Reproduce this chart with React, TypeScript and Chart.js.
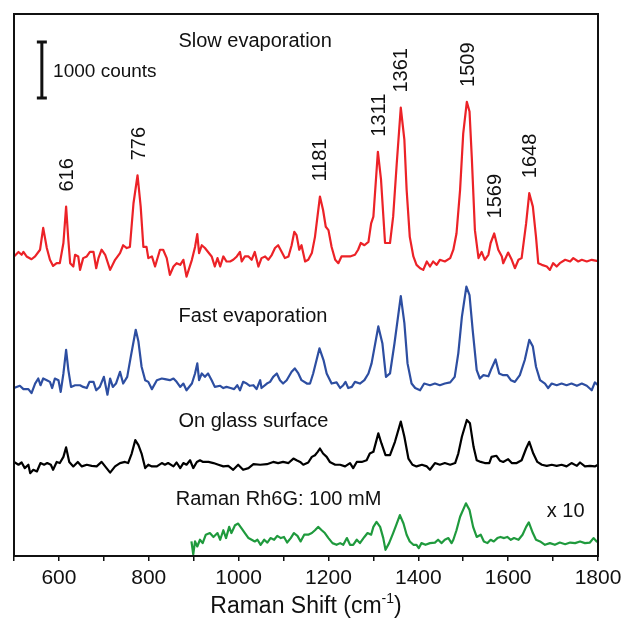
import { useEffect, useRef } from "react";
import { Chart, registerables } from "chart.js";

Chart.register(...registerables);

// Raman shift (cm-1) and intensity (counts, traces stacked with offsets)
const slowX = [500,510,517,521,528,539,547,558,565,573,580,587,595,602,610,616,621,625,632,636,643,647,654,662,669,677,683,688,695,703,714,725,736,743,751,758,766,775,782,788,795,799,807,814,825,832,840,847,855,862,870,877,884,896,903,908,912,918,925,932,940,947,953,959,966,973,981,988,996,1003,1007,1014,1022,1029,1036,1044,1051,1059,1066,1074,1081,1088,1096,1103,1111,1118,1124,1129,1135,1140,1148,1155,1163,1170,1181,1188,1194,1200,1207,1215,1222,1229,1237,1248,1259,1266,1272,1280,1289,1295,1300,1310,1317,1326,1337,1344,1352,1361,1369,1374,1381,1389,1396,1404,1411,1419,1426,1433,1441,1448,1459,1471,1478,1485,1493,1500,1508,1514,1519,1526,1534,1541,1548,1556,1561,1569,1578,1586,1589,1600,1608,1615,1623,1630,1640,1647,1655,1662,1667,1675,1686,1693,1700,1708,1715,1727,1738,1745,1756,1764,1775,1786,1797,1800];
const slowY = [5350,5430,5380,5430,5350,5300,5350,5470,5860,5500,5290,5180,5230,5230,5590,6240,5640,5230,5170,5380,5350,5110,5320,5350,5430,5430,5140,5320,5470,5380,5110,5290,5410,5550,5500,5520,6300,6800,6240,5520,5520,5320,5350,5170,5470,5470,5320,5020,5170,5230,5200,5290,4990,5290,5520,5750,5410,5550,5500,5430,5350,5170,5320,5170,5350,5260,5260,5290,5350,5430,5260,5350,5350,5290,5430,5170,5320,5350,5290,5380,5500,5550,5430,5320,5350,5550,5790,5730,5470,5550,5260,5290,5410,5700,6420,6180,5880,5820,5520,5290,5230,5350,5350,5350,5380,5470,5590,5550,5610,5940,6060,7220,6720,5590,5590,6060,7010,8010,7430,6540,5700,5350,5200,5140,5110,5260,5170,5260,5200,5290,5260,5320,5470,5760,6540,7550,8110,7940,7130,5820,5320,5430,5290,5380,5590,5760,5470,5350,5230,5420,5290,5140,5290,5320,5940,6480,6240,5700,5230,5200,5170,5110,5230,5170,5230,5290,5260,5320,5260,5290,5260,5290,5270,5280];

const fastX = [500,513,521,532,539,547,554,559,565,573,580,585,591,599,604,610,616,621,627,636,647,654,662,668,677,683,691,700,708,714,720,727,736,743,752,760,771,777,784,792,799,807,818,829,836,847,855,862,870,877,884,896,903,908,912,918,925,932,940,947,959,966,973,982,990,997,1003,1010,1018,1025,1033,1040,1048,1051,1063,1070,1077,1085,1092,1099,1107,1118,1125,1133,1140,1152,1159,1166,1180,1189,1196,1207,1218,1226,1233,1238,1244,1252,1259,1270,1280,1289,1296,1311,1320,1328,1337,1347,1361,1369,1376,1385,1393,1404,1413,1426,1437,1448,1459,1471,1481,1489,1497,1507,1514,1521,1530,1537,1545,1556,1563,1572,1580,1589,1598,1606,1615,1626,1637,1647,1655,1662,1671,1682,1689,1697,1708,1719,1730,1741,1753,1764,1775,1786,1793,1800];
const fastY = [3000,3040,2980,2980,2910,3080,3170,3050,3170,3140,3110,3000,3170,3140,2930,3260,3680,3320,3020,3050,3050,3020,3000,3110,3110,2960,3020,3200,2880,3170,3020,3080,3290,3080,3200,3560,4040,3830,3380,3140,3110,2980,3140,3170,3160,3140,3170,3110,3020,3080,2960,3080,3260,3440,3140,3260,3200,3260,3140,3020,3040,3000,3020,3000,2980,3050,2960,3110,3080,3040,3050,2980,3140,3000,3080,3110,3200,3260,3140,3080,3140,3290,3350,3260,3140,3080,3080,3260,3710,3500,3260,3080,3100,3000,3050,3110,3000,3020,3110,3080,3140,3260,3440,4100,3800,3200,3260,3800,4640,4160,3440,3080,3000,2960,3080,3050,3080,3050,3080,3100,3200,3620,4270,4810,4660,4040,3320,3170,3230,3210,3350,3510,3260,3230,3230,3140,3110,3230,3500,3860,3740,3380,3140,3080,3000,3080,3050,3080,3050,3080,3040,3080,3040,2960,3100,3050];

const glassX = [500,510,517,524,532,536,543,551,559,567,574,582,587,595,602,610,616,623,632,642,651,662,673,684,695,706,714,725,736,747,754,762,770,777,784,792,799,807,818,829,836,843,855,862,870,877,884,892,899,907,914,921,933,944,955,966,977,988,999,1010,1022,1033,1048,1063,1077,1088,1099,1111,1122,1129,1137,1144,1155,1163,1170,1176,1181,1188,1196,1203,1215,1226,1237,1248,1255,1263,1274,1285,1292,1300,1311,1318,1327,1337,1348,1361,1369,1378,1387,1396,1408,1419,1426,1437,1448,1459,1471,1482,1489,1497,1508,1515,1523,1530,1539,1548,1558,1563,1574,1582,1589,1600,1608,1619,1630,1640,1647,1656,1665,1675,1686,1697,1708,1719,1730,1741,1753,1760,1771,1782,1793,1800];
const glassY = [1680,1630,1670,1570,1630,1480,1540,1510,1660,1630,1660,1630,1540,1680,1660,1770,1940,1680,1600,1680,1600,1630,1610,1600,1680,1570,1490,1600,1660,1680,1660,1830,2070,1980,1830,1570,1630,1600,1600,1660,1630,1660,1600,1670,1570,1660,1630,1710,1570,1680,1710,1680,1680,1660,1630,1600,1610,1540,1630,1540,1570,1640,1630,1640,1680,1660,1680,1660,1740,1710,1680,1630,1670,1770,1800,1860,1920,1830,1770,1680,1630,1630,1600,1660,1570,1680,1680,1710,1830,1860,2190,2010,1800,1800,2040,2400,2130,1740,1630,1600,1630,1600,1540,1660,1630,1660,1630,1660,1830,2130,2430,2370,1950,1710,1680,1660,1660,1770,1790,1700,1680,1730,1660,1660,1710,1920,2040,1830,1680,1630,1610,1630,1610,1630,1600,1660,1610,1670,1600,1610,1600,1630];

const ramanX = [895,899,903,908,914,920,927,936,944,953,959,966,972,979,984,992,999,1007,1014,1022,1029,1036,1042,1049,1057,1064,1071,1079,1086,1094,1101,1108,1116,1123,1131,1138,1146,1155,1163,1170,1177,1185,1192,1200,1209,1218,1226,1233,1241,1248,1255,1263,1270,1280,1287,1295,1300,1307,1315,1322,1327,1335,1344,1352,1359,1367,1374,1381,1389,1396,1401,1407,1416,1426,1437,1444,1452,1459,1467,1474,1478,1485,1493,1506,1514,1522,1530,1539,1546,1554,1561,1568,1576,1583,1591,1598,1606,1613,1623,1632,1640,1646,1655,1662,1671,1682,1693,1704,1715,1727,1738,1749,1760,1771,1782,1790,1797,1800];
const ramanY = [260,30,260,170,290,230,380,410,340,410,290,460,320,520,410,550,580,490,410,320,290,260,290,200,290,240,320,290,360,320,340,240,320,410,360,260,380,380,410,460,520,460,410,320,230,200,230,200,320,200,200,290,230,340,410,380,520,610,520,320,110,230,410,580,730,580,380,260,200,200,140,230,200,230,240,290,230,290,320,230,290,460,700,940,820,520,340,380,260,230,290,260,320,340,320,340,290,320,290,380,520,600,410,290,260,200,230,200,240,210,240,230,260,230,240,320,260,250];

const traceNames = ["Slow evaporation", "Fast evaporation", "On glass surface", "Raman Rh6G: 100 mM"];
const traceColors = ["#ec2227", "#2d4ea1", "#000000", "#1f9a3d"];
const nameX = [866, 866, 866, 860];
const nameY = [9090, 4185, 2304, 911];
const peakLabels = [616, 776, 1181, 1311, 1361, 1509, 1569, 1648];
const xTickValues = [600, 800, 1000, 1200, 1400, 1600, 1800];
const scaleBarCounts = 1000;
const scaleBarX = 562;
const scaleBarBottom = 8180;

const FONT = '"Liberation Sans", Arial, Helvetica, sans-serif';

const annotatePlugin = {
  id: "annotate",
  afterDraw(chart: any) {
    const { ctx, chartArea: a, scales } = chart;
    const x = scales.x;
    const y = scales.y;
    ctx.save();
    // frame
    ctx.strokeStyle = "#111";
    ctx.lineWidth = 2;
    ctx.strokeRect(a.left, a.top, a.right - a.left, a.bottom - a.top);

    // trace names
    ctx.fillStyle = "#111";
    ctx.font = `20px ${FONT}`;
    ctx.textAlign = "left";
    ctx.textBaseline = "alphabetic";
    traceNames.forEach((n, i) => {
      ctx.fillText(n, x.getPixelForValue(nameX[i]), y.getPixelForValue(nameY[i]));
    });
    // x 10
    ctx.fillText("x 10", x.getPixelForValue(1686), y.getPixelForValue(691));

    // scale bar
    const sx = x.getPixelForValue(scaleBarX);
    const sb = y.getPixelForValue(scaleBarBottom);
    const st = y.getPixelForValue(scaleBarBottom + scaleBarCounts);
    ctx.lineWidth = 3;
    ctx.beginPath();
    ctx.moveTo(sx, sb);
    ctx.lineTo(sx, st);
    ctx.moveTo(sx - 5, sb);
    ctx.lineTo(sx + 5, sb);
    ctx.moveTo(sx - 5, st);
    ctx.lineTo(sx + 5, st);
    ctx.stroke();
    ctx.font = `19px ${FONT}`;
    ctx.fillText(`${scaleBarCounts} counts`, x.getPixelForValue(587), y.getPixelForValue(8560));

    // peak labels
    ctx.font = `20px ${FONT}`;
    peakLabels.forEach((p) => {
      let m = -Infinity;
      slowX.forEach((xv, j) => {
        if (Math.abs(xv - p) <= 10) m = Math.max(m, slowY[j]);
      });
      const px = x.getPixelForValue(p) + 1;
      const py = y.getPixelForValue(m) - 15;
      ctx.save();
      ctx.translate(px, py);
      ctx.rotate(-Math.PI / 2);
      ctx.textAlign = "left";
      ctx.textBaseline = "middle";
      ctx.fillText(String(p), 0, 0);
      ctx.restore();
    });

    // axis title with superscript
    const main = "Raman Shift (cm";
    const sup = "-1";
    const tail = ")";
    ctx.font = `23px ${FONT}`;
    const w1 = ctx.measureText(main).width;
    const w3 = ctx.measureText(tail).width;
    ctx.font = `14px ${FONT}`;
    const w2 = ctx.measureText(sup).width;
    const total = w1 + w2 + w3;
    const cx = (a.left + a.right) / 2;
    const base = 613;
    let tx = cx - total / 2;
    ctx.textAlign = "left";
    ctx.textBaseline = "alphabetic";
    ctx.font = `23px ${FONT}`;
    ctx.fillText(main, tx, base);
    tx += w1;
    ctx.font = `14px ${FONT}`;
    ctx.fillText(sup, tx, base - 10);
    tx += w2;
    ctx.font = `23px ${FONT}`;
    ctx.fillText(tail, tx, base);
    ctx.restore();
  },
};

export default function App() {
  const ref = useRef<HTMLCanvasElement | null>(null);
  useEffect(() => {
    if (!ref.current) return;
    const mk = (xs: number[], ys: number[]) => xs.map((v, i) => ({ x: v, y: ys[i] }));
    const series = [mk(slowX, slowY), mk(fastX, fastY), mk(glassX, glassY), mk(ramanX, ramanY)];
    const chart = new Chart(ref.current, {
      type: "line",
      data: {
        datasets: series.map((d, i) => ({
          label: traceNames[i],
          data: d,
          borderColor: traceColors[i],
          borderWidth: 2.2,
          borderJoinStyle: "round",
          pointRadius: 0,
          tension: 0,
          fill: false,
        })),
      },
      options: {
        animation: false,
        responsive: false,
        devicePixelRatio: 1,
        layout: { padding: { left: 14, right: 26, top: 14, bottom: 36 } },
        plugins: { legend: { display: false }, tooltip: { enabled: false } },
        scales: {
          x: {
            type: "linear",
            min: 500,
            max: 1800,
            border: { display: true, color: "#111", width: 2 },
            grid: { display: true, drawOnChartArea: false, drawTicks: true, tickLength: 5, color: "#111", lineWidth: 1.5 },
            ticks: {
              stepSize: 100,
              autoSkip: false,
              maxRotation: 0,
              padding: 5,
              color: "#111",
              font: { size: 21, family: FONT },
              callback: (v: any) => (xTickValues.includes(Number(v)) ? String(v) : ""),
            },
            afterFit: (s: any) => {
              s.height = 36;
              s.paddingLeft = 0;
              s.paddingRight = 0;
            },
          },
          y: {
            display: false,
            min: 0,
            max: 9680,
          },
        },
      } as any,
      plugins: [annotatePlugin],
    });
    return () => chart.destroy();
  }, []);
  return (
    <div style={{ position: "fixed", left: 0, top: 0, width: 624, height: 628, background: "#fff" }}>
      <canvas ref={ref} width={624} height={628} style={{ width: 624, height: 628 }} />
    </div>
  );
}
